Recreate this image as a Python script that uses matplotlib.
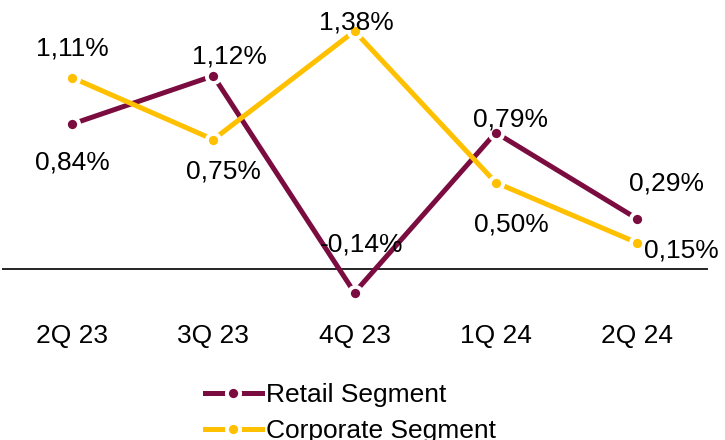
import matplotlib
matplotlib.use('Agg')
import matplotlib.pyplot as plt

plt.rcParams['font.family'] = ['Liberation Sans', 'DejaVu Sans']

# Quarterly segment values (%)
quarters = ['2Q 23', '3Q 23', '4Q 23', '1Q 24', '2Q 24']
retail = [0.84, 1.12, -0.14, 0.79, 0.29]
corporate = [1.11, 0.75, 1.38, 0.50, 0.15]

# label offsets in pixels (dx, dy) for each point
retail_off = [(0, -38.5), (16, 19.5), (7, 48.5), (15, 13.5), (30, 35)]
corporate_off = [(0.5, 29), (10, -32), (2, 9), (15.5, -41.5), (44, -7.5)]

maroon = '#7B0C3F'
gold = '#FFC000'
fs = 19

fig = plt.figure(figsize=(7.25, 4.4), dpi=100)
ax = fig.add_axes([1.5 / 725, 140 / 440, 706 / 725, 290 / 440])

x = list(range(len(quarters)))
style = dict(lw=3.6, marker='o', ms=9.5, mew=2.8, mec='white')
ax.plot(x, retail, color=maroon, label='Retail Segment', **style)
ax.plot(x, corporate, color=gold, label='Corporate Segment', **style)

ax.axhline(0, color='black', lw=1.2, zorder=0)

for xi, v, off in zip(x, retail, retail_off):
    ax.annotate(f'{v:.2f}%'.replace('.', ','), (xi, v), xytext=off,
                textcoords='offset pixels', ha='center', va='center', fontsize=fs)
for xi, v, off in zip(x, corporate, corporate_off):
    ax.annotate(f'{v:.2f}%'.replace('.', ','), (xi, v), xytext=off,
                textcoords='offset pixels', ha='center', va='center', fontsize=fs)

ax.set_xlim(-0.5, 4.5)
ax.set_ylim(-0.183, 1.503)
ax.set_xticks(x)
ax.set_xticklabels(quarters, fontsize=fs)
ax.tick_params(axis='x', length=0, pad=17)
ax.set_yticks([])
for s in ax.spines.values():
    s.set_visible(False)

# legend sits low, second row runs to the bottom edge
fig.legend(loc='upper left', bbox_to_anchor=(205 / 725, 1 - 383 / 440),
           frameon=False, fontsize=fs, handlelength=2.15, handletextpad=0.15,
           labelspacing=0.45, borderpad=0, borderaxespad=0)

fig.savefig('out.png', dpi=100)
